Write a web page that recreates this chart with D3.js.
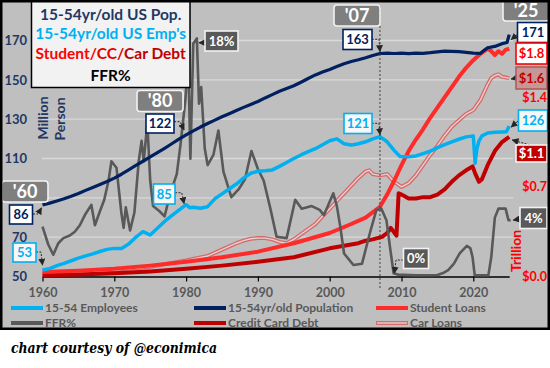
<!DOCTYPE html>
<html><head><meta charset="utf-8">
<script src="https://cdn.jsdelivr.net/npm/d3@7"></script>
<style>
body{margin:0;background:#fff}
svg{display:block}
text{font-family:Lato,"Open Sans","Noto Sans",sans-serif}
</style>
</head><body>
<svg id="chart" width="550" height="368"></svg>
<script>
// ---------------- DATA ----------------
const xTicks = [1960, 1970, 1980, 1990, 2000, 2010, 2020];
const gridTicks = [70, 90, 110, 130, 150, 170];
const leftTicks = [50, 70, 110, 130, 150, 170];
const rightTicks = [0, 0.7, 1.4];
const rightTickLabels = ["$0.0", "$0.7", "$1.4"];

// 15-54yr/old population, millions
const population = [[1960,86.4],[1961,87.3],[1962,88.4],[1963,89.5],[1964,90.8],[1965,92.2],[1966,93.8],[1967,95.3],[1968,96.8],[1969,98.3],[1970,100],[1971,102],[1972,104.2],[1973,106.5],[1974,108.6],[1975,110.8],[1976,113],[1977,115.2],[1978,117.5],[1979,119.8],[1980,122],[1981,124],[1982,126],[1983,127.8],[1984,129.5],[1985,131.2],[1986,132.8],[1987,134.4],[1988,136],[1989,137.5],[1990,139],[1991,140.8],[1992,142.5],[1993,144.2],[1994,145.6],[1995,147],[1996,148.8],[1997,150.7],[1998,152.5],[1999,154],[2000,155.3],[2001,156.8],[2002,158.2],[2003,159.3],[2004,160.2],[2005,161.2],[2006,162.4],[2007,163.4],[2008,163.6],[2009,163.4],[2010,163.6],[2011,163.3],[2012,163.6],[2013,163.5],[2014,163.8],[2015,164.2],[2016,164.6],[2017,164.5],[2018,164.3],[2019,164],[2020,163.6],[2021,163.5],[2021.7,165.5],[2022,166.3],[2023,167],[2024,168.4],[2024.7,169],[2025,173]];

// 15-54 employees, millions
const employees = [[1960,53.3],[1961,54],[1962,55.5],[1963,56.7],[1964,58],[1965,59.3],[1966,60.5],[1967,61.5],[1968,62.7],[1969,63.8],[1970,64.3],[1971,64.3],[1972,66.5],[1973,70],[1974,72.8],[1975,71.1],[1976,74.5],[1977,78],[1978,81],[1979,83.8],[1980,86.5],[1980.5,85],[1981,85.2],[1982,84.7],[1983,85.5],[1984,89.5],[1985,92],[1986,94.5],[1987,97],[1988,100],[1989,102.5],[1990,103.5],[1991,103.8],[1992,104.2],[1993,106],[1994,108],[1995,110],[1996,111.8],[1997,113.5],[1998,115],[1999,117],[2000,119],[2001,120],[2002,117.5],[2003,116.9],[2004,117.5],[2005,118.5],[2006,120],[2007,121.1],[2008,118.5],[2009,114],[2009.8,111],[2011,110.9],[2012,111.3],[2013,112.5],[2014,113.7],[2015,115.5],[2016,117],[2017,118.5],[2018,119.8],[2019,121],[2020,121.5],[2020.25,107.6],[2020.5,115],[2020.8,119],[2021.2,121.5],[2022,123],[2023,123.3],[2024,123.5],[2024.6,123.6],[2025,126.5]];

// Student loans, $ trillion
const studentLoans = [[1960,0.035],[1965,0.045],[1970,0.06],[1975,0.085],[1980,0.115],[1985,0.15],[1990,0.194],[1995,0.26],[2000,0.34],[2003,0.41],[2005,0.46],[2007,0.545],[2008,0.64],[2009,0.75],[2010,0.87],[2011,0.98],[2012,1.07],[2013,1.15],[2014,1.24],[2015,1.32],[2016,1.4],[2017,1.48],[2018,1.56],[2019,1.63],[2020,1.69],[2021,1.74],[2022,1.78],[2022.5,1.76],[2023,1.73],[2023.5,1.76],[2024,1.74],[2024.5,1.77],[2025,1.78]];

// Credit card debt, $ trillion
const creditCard = [[1960,0.01],[1965,0.015],[1970,0.025],[1975,0.04],[1980,0.06],[1985,0.085],[1990,0.115],[1995,0.15],[2000,0.22],[2002,0.24],[2004,0.26],[2005,0.28],[2006,0.29],[2007.3,0.31],[2008,0.34],[2008.5,0.38],[2009.3,0.32],[2009.6,0.65],[2010,0.64],[2011,0.61],[2012,0.61],[2013,0.62],[2014,0.62],[2015,0.64],[2016,0.68],[2017,0.74],[2018,0.79],[2019,0.83],[2019.9,0.86],[2020.3,0.8],[2020.8,0.74],[2021.2,0.76],[2022,0.87],[2023,0.98],[2024,1.05],[2025,1.09]];

// Car loans, $ trillion
const carLoans = [[1960,0.02],[1965,0.035],[1970,0.05],[1975,0.075],[1978,0.105],[1980,0.125],[1983,0.16],[1985,0.21],[1987,0.26],[1988,0.28],[1989,0.295],[1990,0.3],[1991,0.3],[1992,0.29],[1993,0.27],[1994,0.26],[1995,0.29],[1996,0.33],[1997,0.37],[1998,0.41],[1999,0.47],[2000,0.53],[2001,0.59],[2002,0.65],[2003,0.71],[2004,0.77],[2005,0.82],[2005.5,0.83],[2006,0.8],[2007,0.79],[2008,0.8],[2009,0.74],[2010,0.7],[2011,0.73],[2012,0.79],[2013,0.87],[2014,0.95],[2015,1.02],[2016,1.1],[2017,1.17],[2018,1.22],[2019,1.27],[2020,1.3],[2021,1.38],[2022,1.5],[2022.5,1.55],[2023,1.57],[2023.5,1.58],[2024,1.56],[2025,1.55]];

// Fed funds rate, %
const ffr = [[1960,3.9],[1960.8,2.5],[1961.5,1.7],[1962.2,2.6],[1962.9,3.0],[1963.8,3.2],[1964.5,3.5],[1965.2,4.0],[1965.9,4.8],[1966.8,5.6],[1967.3,4.0],[1968,5.1],[1968.6,6.0],[1969.2,7.5],[1969.6,9.0],[1970.3,8.5],[1971,4.9],[1971.3,3.8],[1971.6,5.4],[1972.2,3.6],[1972.8,5.0],[1973.4,9.0],[1973.8,10.6],[1974.1,9.0],[1974.6,12.0],[1975,7.5],[1975.4,5.5],[1976.3,5.1],[1977,4.7],[1977.8,6.5],[1978.7,8.0],[1979.2,10.2],[1979.9,13.8],[1980.3,17.2],[1980.6,9.2],[1981,18.2],[1981.5,18.6],[1981.8,13.5],[1982.1,14.8],[1982.6,10.0],[1983,8.7],[1983.8,9.5],[1984.5,11.4],[1985.2,8.2],[1986.3,6.2],[1987.3,6.8],[1988.2,7.6],[1989.1,9.8],[1990,8.4],[1990.8,7.5],[1991.7,5.4],[1992.6,3.1],[1994,3.0],[1995.2,6.0],[1996.1,5.3],[1997.5,5.5],[1998.6,5.2],[1999.2,4.8],[2000.5,6.5],[2001,5.5],[2001.5,3.8],[2002,1.8],[2003.3,0.9],[2004.5,1.0],[2005.6,3.4],[2006.5,5.2],[2007.2,5.3],[2007.9,4.4],[2008.4,2.3],[2008.9,0.25],[2009.5,0.15],[2012,0.1],[2015,0.12],[2015.9,0.3],[2016.5,0.5],[2017.3,1.0],[2018.1,1.8],[2019.1,2.4],[2019.6,2.2],[2019.9,1.5],[2020.2,0.1],[2022.1,0.1],[2022.5,1.5],[2023,4.6],[2023.5,5.3],[2024.5,5.3],[2024.9,4.4],[2025.2,4.4]];

const titleLines = ["15-54yr/old US Pop.", "15-54yr/old US Emp's", "Student/CC/Car Debt", "FFR%"];
const legendLabels = ["15-54 Employees", "15-54yr/old Population", "Student Loans", "FFR%", "Credit Card Debt", "Car Loans"];
const yearTags = ["'60", "'80", "'07", "'25"];

// ---------------- DRAWING ----------------
const C = {navy:"#002060", blue:"#00b0f0", red:"#ff2a2a", dred:"#c00000", gray:"#595959", bg:"#bfbfbf"};
const svg = d3.select("#chart");
const x = d3.scaleLinear().domain([1960, 2025]).range([42.5, 509.2]);
const yL = d3.scaleLinear().domain([50, 170]).range([276.5, 40.5]);
const yR = d3.scaleLinear().domain([0, 1.4]).range([276.5, 97.3]);
const yF = d3.scaleLinear().domain([0, 14]).range([276.5, 97.3]);

svg.append("rect").attr("x",0).attr("y",0).attr("width",550).attr("height",330).attr("fill",C.bg);

// gridlines
svg.append("g").selectAll("line").data(gridTicks).join("line")
  .attr("x1",42).attr("x2",513).attr("y1",d=>yL(d)).attr("y2",d=>yL(d))
  .attr("stroke","#d9d9d9").attr("stroke-width",1.3);

// x axis
const gx = svg.append("g").attr("transform","translate(0,276.5)")
  .call(d3.axisBottom(x).tickValues(xTicks).tickFormat(d3.format("d")).tickSize(5).tickSizeOuter(0));
gx.select(".domain").attr("stroke","#000").attr("stroke-width",1.5);
gx.selectAll(".tick line").attr("stroke","#000").attr("stroke-width",1.2);
gx.selectAll("text").attr("dy",null).attr("y",20.5).attr("fill",C.gray)
  .style("font-size","12.5px").style("font-weight","700").style("font-family","Lato");

// left axis labels
const gl = svg.append("g").attr("transform","translate(27,0)")
  .call(d3.axisLeft(yL).tickValues(leftTicks).tickSize(0).tickPadding(0));
gl.select(".domain").remove();
gl.selectAll("text").attr("fill","#1f3864").style("font-size","13px").style("font-weight","700").style("font-family","Lato");

// right axis labels
const gr = svg.append("g").attr("transform","translate(547,0)")
  .call(d3.axisLeft(yR).tickValues(rightTicks).tickFormat((d,i)=>rightTickLabels[i]).tickSize(0).tickPadding(0));
gr.select(".domain").remove();
gr.selectAll("text").attr("fill","#ff0000").style("font-size","12.5px").style("font-weight","700").style("font-family","Lato");

// axis titles
svg.append("text").attr("transform","translate(48,118) rotate(-90)").attr("text-anchor","middle")
  .attr("fill","#1f3864").style("font-size","14px").style("font-weight","700").text("Million");
svg.append("text").attr("transform","translate(65,119) rotate(-90)").attr("text-anchor","middle")
  .attr("fill","#1f3864").style("font-size","14px").style("font-weight","700").text("Person");
svg.append("text").attr("transform","translate(521,251) rotate(-90)").attr("text-anchor","middle")
  .attr("fill","#ff0000").style("font-size","14px").style("font-weight","700").text("Trillion");

// lines
svg.append("defs").append("clipPath").attr("id","plot").append("rect").attr("x",40).attr("y",2).attr("width",476).attr("height",300);
const plot = svg.append("g").attr("clip-path","url(#plot)");
const lineL = d3.line().x(d=>x(d[0])).y(d=>yL(d[1]));
const lineR = d3.line().x(d=>x(d[0])).y(d=>yR(d[1]));
const lineF = d3.line().x(d=>x(d[0])).y(d=>yF(d[1]));

plot.append("path").datum(carLoans).attr("d",lineR).attr("fill","none").attr("stroke","#d46a6a").attr("stroke-width",4).attr("stroke-linejoin","round");
plot.append("path").datum(carLoans).attr("d",lineR).attr("fill","none").attr("stroke","#e9cfcf").attr("stroke-width",1.4).attr("stroke-linejoin","round");
plot.append("path").datum(creditCard).attr("d",lineR).attr("fill","none").attr("stroke",C.dred).attr("stroke-width",4).attr("stroke-linejoin","round");
plot.append("path").datum(studentLoans).attr("d",lineR).attr("fill","none").attr("stroke",C.red).attr("stroke-width",4).attr("stroke-linejoin","round");
plot.append("path").datum(ffr).attr("d",lineF).attr("fill","none").attr("stroke",C.gray).attr("stroke-width",2.6).attr("stroke-linejoin","round");
plot.append("path").datum(employees).attr("d",lineL).attr("fill","none").attr("stroke",C.blue).attr("stroke-width",3.5).attr("stroke-linejoin","round");
plot.append("path").datum(population).attr("d",lineL).attr("fill","none").attr("stroke",C.navy).attr("stroke-width",3.2).attr("stroke-linejoin","round");

// 2007 dotted line
svg.append("line").attr("x1",x(2007)).attr("x2",x(2007)).attr("y1",6).attr("y2",288)
  .attr("stroke","#404040").attr("stroke-width",1).attr("stroke-dasharray","2,2");

// arrow marker
svg.select("defs").append("marker").attr("id","ah").attr("viewBox","0 0 10 10").attr("refX",9).attr("refY",5)
  .attr("markerWidth",7).attr("markerHeight",7).attr("markerUnits","userSpaceOnUse").attr("orient","auto")
  .append("path").attr("d","M0,0 L10,5 L0,10 z").attr("fill","#262626");

function arrow(pts, dashed){
  svg.append("path").attr("d", d3.line()(pts)).attr("fill","none").attr("stroke","#262626")
    .attr("stroke-width",1).attr("stroke-dasharray", dashed ? "2,1.5" : null).attr("marker-end","url(#ah)");
}
function box(bx, by, w, h, txt, fill, stroke, color, fs, rx){
  svg.append("rect").attr("x",bx).attr("y",by).attr("width",w).attr("height",h).attr("rx",rx||0)
    .attr("fill",fill).attr("stroke",stroke).attr("stroke-width",1.6);
  svg.append("text").attr("x",bx+w/2).attr("y",by+h/2).attr("dy","0.36em").attr("text-anchor","middle")
    .attr("fill",color).style("font-size",fs+"px").style("font-weight","700").text(txt);
}
const tag = (bx,by,t)=>box(bx,by,46,21,t,"#7f7f7f","#f2f2f2","#fff",18,3);

// arrows
arrow([[33,214],[38,214],[x(1960)-1,yL(86.4)+3]], true);
arrow([[36,252],[41,252],[x(1960),yL(53.3)-5]], true);
arrow([[174,121.7],[180,121.7],[x(1980)-2,yL(122)-5]], true);
arrow([[175,192.7],[181.7,192.7],[x(1980)-2,yL(85.5)-3]], true);
arrow([[205,42.7],[199,42.7]], false);
arrow([[371.7,39.3],[379,39.3],[x(2007),yL(163.4)-2]], true);
arrow([[371.7,123.3],[379,123.3],[x(2007),yL(121.1)-2]], true);
arrow([[403.3,260],[396,260],[394.3,yF(0.1)-2]], true);
arrow([[518,34],[x(2025)+2,yL(171)+1]], false);
arrow([[518,121],[x(2025)+2,yL(126.5)+1]], false);
arrow([[516,78],[x(2025)+2,yR(1.55)+1]], false);
arrow([[530,145],[x(2025)+3,yR(1.09)+3]], true);
arrow([[520,219],[x(2025)+4,yF(4.4)]], false);

// year tags and value boxes
tag(2,181,yearTags[0]);
box(9.5,205,23,19,"86","#fff",C.navy,C.navy,13);
box(13,243,23,19,"53","#f7f7f7",C.blue,C.blue,13);
tag(137,90.5,yearTags[1]);
box(146,114,28,19,"122","#fff",C.navy,C.navy,13);
box(153.5,184,21.5,20,"85","#f7f7f7",C.blue,C.blue,13);
box(205,31,33,20,"18%","#595959","#f2f2f2","#fff",13);
tag(334,5,yearTags[2]);
box(343,29.5,29,20,"163","#fff",C.navy,C.navy,13);
box(344,113.5,28,20,"121","#f7f7f7",C.blue,C.blue,13);
box(403.5,248.5,25,20,"0%","#595959","#f2f2f2","#fff",13);
tag(503,0,yearTags[3]);
box(517.5,22.5,31,20,"171","#fff",C.navy,C.navy,13);
box(516,43,31,21,"$1.8","#fff","#ff0000","#ff0000",13);
box(516,67,31,22,"$1.6","#c89696","#b35a5a",C.dred,13);
box(518.5,110,29,21,"126","#f7f7f7",C.blue,C.blue,13);
box(516,145,31,17,"$1.1",C.dred,"#f2f2f2","#fff",13);
box(520,207.5,27,21,"4%","#595959","#f2f2f2","#fff",13);

// title box
svg.append("rect").attr("x",31.5).attr("y",0.5).attr("width",158.5).attr("height",87).attr("fill","#f2f2f2").attr("stroke","#000").attr("stroke-width",1.5);
const tcx = 110.7, tys = [14, 33.5, 53.5, 75];
const tcols = ["#1f3864", C.blue, null, "#000"];
titleLines.forEach((t,i)=>{
  const tt = svg.append("text").attr("x",tcx).attr("y",tys[i]).attr("dy","0.36em").attr("text-anchor","middle")
    .style("font-size","15.5px").style("font-weight","700");
  if (i===2){
    tt.append("tspan").attr("fill","#ff0000").text("Student/");
    tt.append("tspan").attr("fill","#e00000").text("CC/");
    tt.append("tspan").attr("fill","#c00000").text("Car Debt");
  } else tt.attr("fill",tcols[i]).text(t);
});

// legend
const legItems = [
  {lx:11, ly:308, c:C.blue}, {lx:194, ly:308, c:C.navy}, {lx:376, ly:308, c:C.red},
  {lx:11, ly:323, c:C.gray}, {lx:194, ly:323, c:C.dred}, {lx:376, ly:323, c:"car"}
];
legItems.forEach((it,i)=>{
  if (it.c==="car"){
    svg.append("line").attr("x1",it.lx).attr("x2",it.lx+32).attr("y1",it.ly).attr("y2",it.ly).attr("stroke","#d46a6a").attr("stroke-width",4);
    svg.append("line").attr("x1",it.lx+1).attr("x2",it.lx+31).attr("y1",it.ly).attr("y2",it.ly).attr("stroke","#e9cfcf").attr("stroke-width",1.4);
  } else {
    svg.append("line").attr("x1",it.lx).attr("x2",it.lx+32).attr("y1",it.ly).attr("y2",it.ly).attr("stroke",it.c).attr("stroke-width",4);
  }
  svg.append("text").attr("x",it.lx+34).attr("y",it.ly).attr("dy","0.36em").attr("fill",C.gray)
    .style("font-size","12px").style("font-weight","700").text(legendLabels[i]);
});

// outer border
svg.append("rect").attr("x",1.25).attr("y",1.25).attr("width",547.5).attr("height",327.5).attr("fill","none").attr("stroke","#000").attr("stroke-width",2.5);

// credit
svg.append("text").attr("x",11).attr("y",353).attr("fill","#000")
  .attr("textLength",206).attr("lengthAdjust","spacingAndGlyphs")
  .style("font-family","'DejaVu Serif',serif").style("font-style","italic").style("font-weight","700").style("font-size","15px")
  .text("chart courtesy of @econimica");
</script>
</body></html>
